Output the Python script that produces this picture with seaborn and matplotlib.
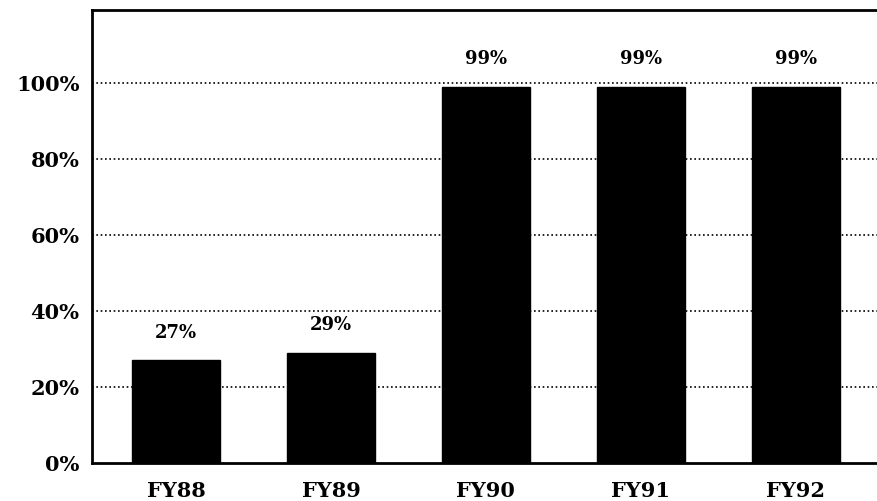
import matplotlib
matplotlib.use("Agg")
import matplotlib.pyplot as plt
import seaborn as sns
import pandas as pd

categories = ["FY88", "FY89", "FY90", "FY91", "FY92"]
values = [27, 29, 99, 99, 99]
value_labels = ["27%", "29%", "99%", "99%", "99%"]
y_ticks = [0, 20, 40, 60, 80, 100]
y_tick_labels = ["0%", "20%", "40%", "60%", "80%", "100%"]

df = pd.DataFrame({"year": categories, "pct": values})

sns.set_style("white")
plt.rcParams["font.family"] = ["DejaVu Serif"]
plt.rcParams["font.weight"] = "bold"
plt.rcParams["text.color"] = "black"
plt.rcParams["xtick.color"] = "black"
plt.rcParams["ytick.color"] = "black"

fig = plt.figure(figsize=(8.78, 5.01), dpi=100)
ax = fig.add_axes([92 / 878, 38 / 501, 1 - 92 / 878, 453 / 501])

sns.barplot(data=df, x="year", y="pct", color="black", width=0.57,
            edgecolor="black", saturation=1, ax=ax, zorder=3)

ax.set_xlim(-0.542, 4.53)
ax.set_ylim(0, 119.2)
ax.set_yticks(y_ticks)
ax.set_yticklabels(y_tick_labels, fontsize=15, fontweight="bold", color="black")
ax.tick_params(axis="y", length=0, pad=9)
ax.tick_params(axis="x", length=0, pad=13, labelsize=15)
for t in ax.get_xticklabels():
    t.set_fontweight("bold")
    t.set_color("black")
ax.set_xlabel("")
ax.set_ylabel("")

for v in y_ticks[1:]:
    ax.axhline(v, color="black", linestyle=(0, (1, 1.6)), linewidth=1.2, zorder=1)

for i, (v, lab) in enumerate(zip(values, value_labels)):
    ax.text(i, v + 7.3, lab, ha="center", va="center", fontsize=13,
            fontweight="bold", color="black")

for side in ["left", "bottom", "top"]:
    ax.spines[side].set_visible(True)
    ax.spines[side].set_color("black")
    ax.spines[side].set_linewidth(2)
ax.spines["right"].set_visible(False)

fig.savefig("out.png", dpi=100)
